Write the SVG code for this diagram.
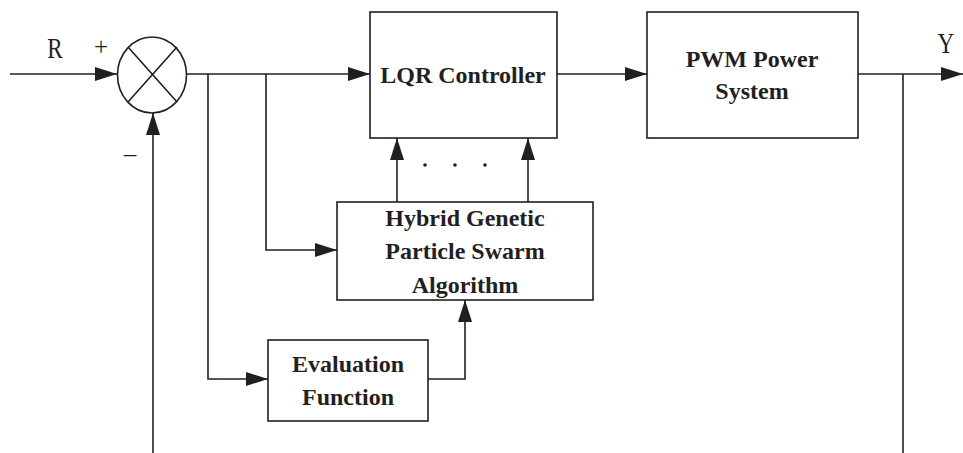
<svg xmlns="http://www.w3.org/2000/svg" width="963" height="453" viewBox="0 0 963 453">
  <style>
    .box { fill: #ffffff; stroke: #231f20; stroke-width: 1.6; }
    .wire { fill: none; stroke: #231f20; stroke-width: 1.6; }
    .lbl { font-family: "Liberation Serif", "Times New Roman", serif; font-weight: bold; font-size: 24px; fill: #231f20; text-anchor: middle; }
    .sig { font-family: "Liberation Serif", "Times New Roman", serif; font-size: 25px; fill: #231f20; text-anchor: middle; }
    .big { font-size: 29px; }
  </style>
  <defs>
    <marker id="arrow" viewBox="0 0 22 14" refX="22" refY="7" markerWidth="22" markerHeight="14" markerUnits="userSpaceOnUse" orient="auto">
      <path d="M0,0 L22,7 L0,14 Z" fill="#231f20"/>
    </marker>
  </defs>
  <rect width="963" height="453" fill="#ffffff"/>

  <!-- signal labels -->
  <text class="sig big" transform="translate(55,58) scale(0.8,1)">R</text>
  <text class="sig" x="101" y="55">+</text>
  <text class="sig" x="130" y="162">–</text>
  <text class="sig big" transform="translate(946,53) scale(0.8,1)">Y</text>

  <!-- connectors -->
  <g id="connectors">
    <path class="wire" d="M10,74 H117" marker-end="url(#arrow)"/>
    <path class="wire" d="M153,453 V113" marker-end="url(#arrow)"/>
    <path class="wire" d="M187,74 H370" marker-end="url(#arrow)"/>
    <path class="wire" d="M557,74 H647" marker-end="url(#arrow)"/>
    <path class="wire" d="M858,74 H963" marker-end="url(#arrow)"/>
    <path class="wire" d="M903,74 V453"/>
    <path class="wire" d="M266,74 V250 H337" marker-end="url(#arrow)"/>
    <path class="wire" d="M208,74 V379 H268" marker-end="url(#arrow)"/>
    <path class="wire" d="M428,379 H465 V300" marker-end="url(#arrow)"/>
    <path class="wire" d="M397,202 V138" marker-end="url(#arrow)"/>
    <path class="wire" d="M528,202 V138" marker-end="url(#arrow)"/>
    <circle cx="425" cy="165" r="1.8" fill="#231f20"/>
    <circle cx="455" cy="165" r="1.8" fill="#231f20"/>
    <circle cx="485" cy="165" r="1.8" fill="#231f20"/>
  </g>

  <!-- summing junction -->
  <g id="sum">
    <ellipse class="box" cx="152" cy="75" rx="34.5" ry="38"/>
    <path class="wire" d="M128,47 L177,102 M177,47 L128,102"/>
  </g>

  <g id="lqr">
    <rect class="box" x="370" y="12" width="187" height="126"/>
    <text class="lbl" x="463" y="83">LQR Controller</text>
  </g>

  <g id="pwm">
    <rect class="box" x="647" y="12" width="211" height="126"/>
    <text class="lbl" x="752" y="67">PWM Power</text>
    <text class="lbl" x="752" y="99">System</text>
  </g>

  <g id="hgpsa">
    <rect class="box" x="337" y="202" width="256" height="98"/>
    <text class="lbl" x="465" y="226">Hybrid Genetic</text>
    <text class="lbl" x="465" y="259">Particle Swarm</text>
    <text class="lbl" x="465" y="293">Algorithm</text>
  </g>

  <g id="evaluation">
    <rect class="box" x="268" y="340" width="160" height="81"/>
    <text class="lbl" x="348" y="372">Evaluation</text>
    <text class="lbl" x="348" y="405">Function</text>
  </g>
</svg>
